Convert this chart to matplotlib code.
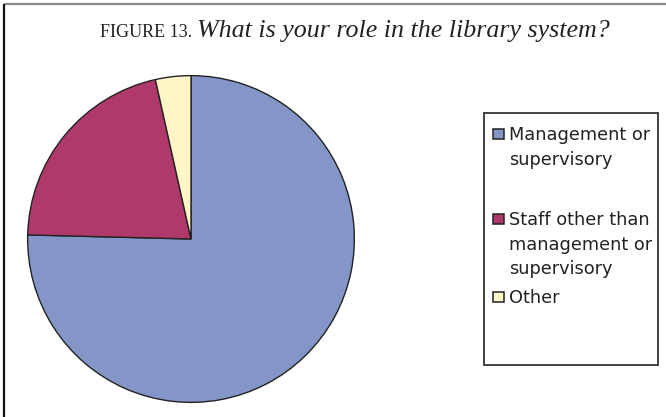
import matplotlib
matplotlib.use("Agg")
import matplotlib.pyplot as plt
from matplotlib.patches import Rectangle

categories = ["Management or\nsupervisory",
              "Staff other than\nmanagement or\nsupervisory",
              "Other"]
values = [75.4, 21.1, 3.5]
colors = ["#8496C8", "#B0396B", "#FFF5C6"]

W, H = 666, 417
fig = plt.figure(figsize=(W / 100, H / 100), dpi=100)
fig.patch.set_facecolor("white")

# overlay for frame, title and legend (pixel coords, y down)
ov = fig.add_axes([0, 0, 1, 1])
ov.set_xlim(0, W)
ov.set_ylim(H, 0)
ov.axis("off")

# frame (top and left)
ov.plot([4, W], [4, 4], color="#8a8a8a", lw=1.6, solid_capstyle="butt")
ov.plot([4, 4], [4, H], color="#111111", lw=1.6, solid_capstyle="butt")

# title
ov.text(100, 37, "FIGURE 13.", family="Liberation Serif", fontsize=13,
        ha="left", va="baseline", color="#222222")
ov.text(197, 37, "What is your role in the library system?",
        family="Liberation Serif", style="italic", fontsize=18.7,
        ha="left", va="baseline", color="#222222")

# pie
cx, cy, r = 191, 239, 165
ax = fig.add_axes([(cx - r) / W, (H - cy - r) / H, 2 * r / W, 2 * r / H])
ax.pie(values, colors=colors, startangle=90, counterclock=False, radius=1,
       wedgeprops=dict(edgecolor="#222222", linewidth=1.0))
ax.set_xlim(-1.01, 1.01)
ax.set_ylim(-1.01, 1.01)
ax.set_aspect("equal")

# legend
ov.add_patch(Rectangle((484, 113), 174, 252, facecolor="white",
                       edgecolor="#333333", lw=1.3))
baselines = [140, 225, 303]
step = 24.5
for lab, col, yb in zip(categories, colors, baselines):
    ov.add_patch(Rectangle((493, yb - 11.5), 10.5, 10.5, facecolor=col,
                           edgecolor="#222222", lw=1.1))
    for i, line in enumerate(lab.split("\n")):
        ov.text(509, yb + i * step, line, family="DejaVu Sans", fontsize=12.8,
                ha="left", va="baseline", color="#222222")

fig.savefig("out.png", dpi=100)
